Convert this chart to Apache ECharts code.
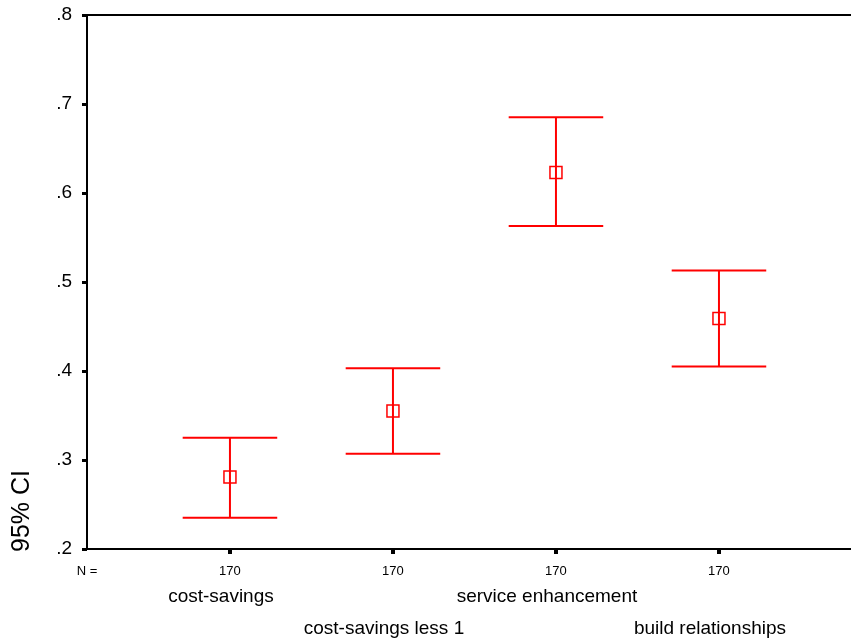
<!DOCTYPE html>
<html>
<head>
<meta charset="utf-8">
<script src="https://cdn.jsdelivr.net/npm/echarts@6/dist/echarts.min.js"></script>
<style>
  html, body { margin: 0; padding: 0; background: #fff; }
  #main { width: 851px; height: 640px; }
</style>
</head>
<body>
<div id="main"></div>
<script>
// data
var categories = ['cost-savings', 'cost-savings less 1', 'service enhancement', 'build relationships'];
var nValues = [170, 170, 170, 170];
var means = [0.281, 0.355, 0.623, 0.459];
var lowerCI = [0.235, 0.307, 0.563, 0.405];
var upperCI = [0.325, 0.403, 0.685, 0.513];

var positions = categories.map(function (c, i) { return i + 1; });
var xMin = 0.123, xMax = 4.81;

var myChart = echarts.init(document.getElementById('main'));

var barData = positions.map(function (p, i) { return [p, lowerCI[i], upperCI[i]]; });
var meanData = positions.map(function (p, i) { return [p, means[i]]; });

var red = '#ff0000';
var font = '"Liberation Sans", Arial, sans-serif';

// a bare bottom axis that only carries one row of labels
function labelAxis(values, margin, size, fmt) {
    return {
        type: 'value',
        position: 'bottom',
        min: xMin,
        max: xMax,
        splitLine: { show: false },
        axisLine: { show: false },
        axisTick: { show: false },
        axisLabel: {
            customValues: values,
            hideOverlap: false,
            margin: margin,
            fontSize: size,
            lineHeight: size + 3,
            padding: [0, 18, 0, 0],   // names sit a little left of the tick
            color: '#000',
            fontFamily: font,
            formatter: fmt
        }
    };
}

function catName(v) { return categories[Math.round(v) - 1]; }

option = {
    animation: false,
    grid: { left: 87, right: 0, top: 15, bottom: 91 },
    xAxis: [
        {
            type: 'value',
            min: xMin,
            max: xMax,
            splitLine: { show: false },
            axisLine: { show: true, onZero: false, lineStyle: { color: '#000', width: 2 } },
            axisTick: { show: true, customValues: positions, length: 5, lineStyle: { color: '#000', width: 4 } },
            axisLabel: {
                customValues: [xMin].concat(positions),
                hideOverlap: false,
                margin: 14,
                fontSize: 13,
                lineHeight: 16,
                color: '#000',
                fontFamily: font,
                formatter: function (v) {
                    if (v < 0.5) return 'N =';
                    return String(nValues[Math.round(v) - 1]);
                }
            }
        },
        {
            type: 'value',
            position: 'top',
            min: xMin,
            max: xMax,
            splitLine: { show: false },
            axisLine: { show: true, onZero: false, lineStyle: { color: '#000', width: 2 } },
            axisTick: { show: false },
            axisLabel: { show: false }
        },
        labelAxis(positions.filter(function (p, i) { return i % 2 === 0; }), 37, 19, catName),
        labelAxis(positions.filter(function (p, i) { return i % 2 === 1; }), 69, 19, catName)
    ],
    yAxis: {
        type: 'value',
        min: 0.2,
        max: 0.8,
        interval: 0.1,
        splitLine: { show: false },
        axisLine: { show: true, onZero: false, lineStyle: { color: '#000', width: 2 } },
        axisTick: { show: true, length: 5, lineStyle: { color: '#000', width: 3 } },
        axisLabel: {
            margin: 15,
            fontSize: 19,
            color: '#000',
            fontFamily: font,
            formatter: function (v) { return v.toFixed(1).replace(/^0/, ''); }
        }
    },
    graphic: [
        {
            type: 'text',
            x: 22,
            y: 511,
            rotation: Math.PI / 2,
            style: {
                text: '95% CI',
                fontSize: 25,
                fontFamily: font,
                fill: '#000',
                textAlign: 'center',
                textVerticalAlign: 'middle'
            }
        }
    ],
    series: [
        {
            type: 'custom',
            xAxisIndex: 0,
            data: barData,
            renderItem: function (params, api) {
                var x = api.value(0);
                var lo = api.coord([x, api.value(1)]);
                var hi = api.coord([x, api.value(2)]);
                var half = api.size([0.29, 0])[0];
                var style = { stroke: red, lineWidth: 2 };
                return {
                    type: 'group',
                    children: [
                        { type: 'line', shape: { x1: hi[0], y1: hi[1], x2: lo[0], y2: lo[1] }, style: style },
                        { type: 'line', shape: { x1: hi[0] - half, y1: hi[1], x2: hi[0] + half, y2: hi[1] }, style: style },
                        { type: 'line', shape: { x1: lo[0] - half, y1: lo[1], x2: lo[0] + half, y2: lo[1] }, style: style }
                    ]
                };
            }
        },
        {
            type: 'scatter',
            xAxisIndex: 0,
            data: meanData,
            symbol: 'rect',
            symbolSize: 12,
            itemStyle: { color: 'rgba(0,0,0,0)', borderColor: red, borderWidth: 1.5, opacity: 1 }
        }
    ]
};

myChart.setOption(option);
</script>
</body>
</html>
